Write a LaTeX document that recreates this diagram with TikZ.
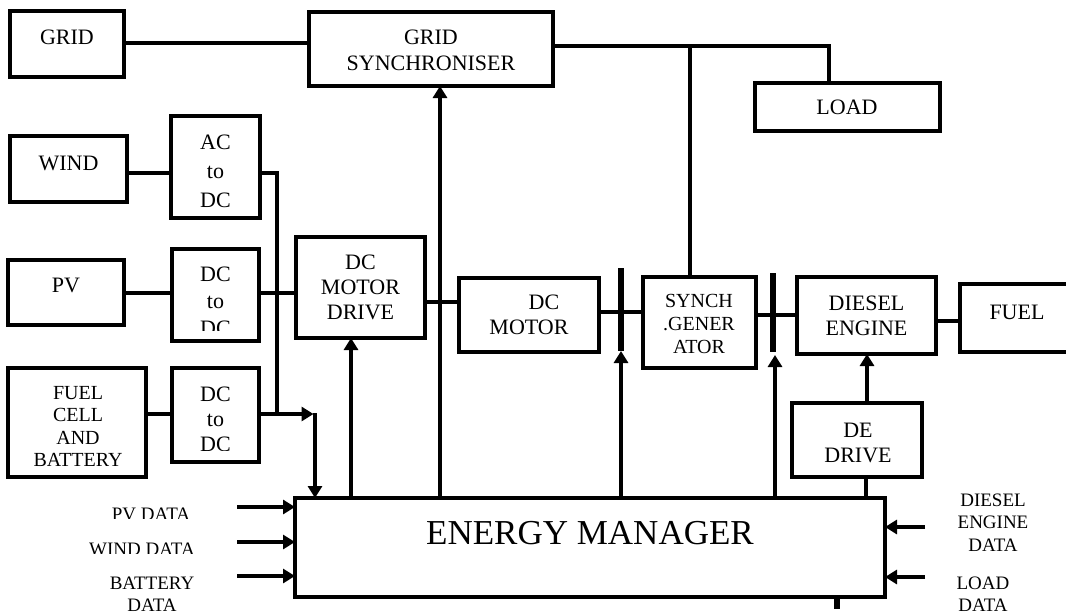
\documentclass[tikz,border=0pt]{standalone}
\usepackage{fontspec}
\setmainfont{Liberation Serif}
\usetikzlibrary{arrows.meta}
\begin{document}
\begin{tikzpicture}[x=1pt,y=-1pt,
  box/.style={draw,line width=3.4pt,inner sep=0pt,outer sep=0pt},
  ln/.style={line width=3.2pt},
  arr/.style={line width=3.2pt,-{Triangle[length=12pt,width=14pt]}},
  shaft/.style={line width=6.5pt},
  tb/.style={font=\fontsize{22}{25}\selectfont,align=center,inner sep=0pt},
  ts/.style={font=\fontsize{20}{23}\selectfont,align=center,inner sep=0pt},
  tl/.style={font=\fontsize{19}{22.5}\selectfont,align=center,inner sep=0pt}]
\useasboundingbox (0,0) rectangle (1066,614);
% boxes
\node[box,minimum width=114pt,minimum height=66pt] (grid) at (67,44) {};
\node[tb] (gridt) at (67,37) {GRID};
\node[box,minimum width=244pt,minimum height=74pt] (gs) at (431,49) {};
\node[tb,font=\fontsize{22}{26}\selectfont] (gst) at (431,50) {GRID\\SYNCHRONISER};
\node[box,minimum width=185pt,minimum height=48pt] (load) at (847.5,107) {};
\node[tb] (loadt) at (847,107) {LOAD};
\node[box,minimum width=117pt,minimum height=66pt] (wind) at (68.5,169) {};
\node[tb] (windt) at (68.5,163) {WIND};
\node[box,minimum width=89pt,minimum height=102pt] (acdc) at (215.5,167) {};
\node[tb,font=\fontsize{22}{29}\selectfont] (acdct) at (215.5,171.7) {AC\\to\\DC};
\node[box,minimum width=116pt,minimum height=65pt] (pv) at (66,292.5) {};
\node[tb] (pvt) at (66,285) {PV};
\node[box,minimum width=87pt,minimum height=92pt] (dcdca) at (215.5,295) {};
\node[box,tb,minimum width=129pt,minimum height=101pt] (dcmd) at (360.5,287.5) {DC\\MOTOR\\DRIVE};
\node[box,tb,minimum width=140pt,minimum height=74pt] (dcm) at (529,315) {\hspace*{30pt}DC\\MOTOR};
\node[box,minimum width=113pt,minimum height=91pt] (sg) at (699.5,322.5) {};
\node[ts] (sgt) at (699,324) {SYNCH\\.GENER\\ATOR};
\node[box,tb,minimum width=139pt,minimum height=77pt] (de) at (866.5,315.5) {DIESEL\\ENGINE};
\node[box,minimum width=115pt,minimum height=68pt] (fuel) at (1017.5,318) {};
\node[tb] (fuelt) at (1017,312) {FUEL};
\node[box,minimum width=138pt,minimum height=109pt] (fc) at (77,422.5) {};
\node[ts,font=\fontsize{20}{22.5}\selectfont] (fct) at (78,426.5) {FUEL\\CELL\\AND\\BATTERY};
\node[box,minimum width=87pt,minimum height=94pt] (dcdcb) at (215.5,415) {};
\node[box,minimum width=130pt,minimum height=74pt] (dedrive) at (857,440) {};
\node[tb] (dedrivet) at (858,442.5) {DE\\DRIVE};
\node[box,minimum width=590pt,minimum height=99pt] (em) at (590,547.5) {};
\node[font=\fontsize{35}{40}\selectfont,inner sep=0pt] (emt) at (590,533) {ENERGY MANAGER};
% labels
\node[tl] (batd) at (152,594) {BATTERY\\DATA};
\node[tl] (ded) at (993,522.5) {DIESEL\\ENGINE\\DATA};
\node[tl] (loadd) at (983,594) {LOAD\\DATA};
% clipped texts
\begin{scope}[even odd rule]
\clip (0,0) rectangle (1066,614)
  (190,330.7) rectangle (242,338.5)
  (190,450) rectangle (242,454)
  (100,518.3) rectangle (205,522.5)
  (75,553.3) rectangle (210,557.5);
\node[tb,font=\fontsize{22}{27}\selectfont] (dcdcat) at (215.5,301.7) {DC\\to\\DC};
\node[tb,font=\fontsize{22}{25}\selectfont] (dcdcbt) at (215.5,419.7) {DC\\to\\DC};
\node[tl] (pvd) at (151,514.5) {PV DATA};
\node[tl] (windd) at (142,549) {WIND DATA};
\end{scope}
% connectors
\coordinate (g1) at (0,43);
\draw[ln] (grid.east|-g1) -- (gs.west|-g1);
\coordinate (w1) at (0,173);
\draw[ln] (wind.east|-w1) -- (acdc.west|-w1);
\coordinate (b1) at (277,173);
\coordinate (b2) at (277,414);
\draw[ln] (acdc.east|-w1) -- (b1) -- (b2);
\coordinate (p1) at (0,293);
\draw[ln] (pv.east|-p1) -- (dcdca.west|-p1);
\draw[ln] (dcdca.east|-p1) -- (dcmd.west|-p1);
\coordinate (f1) at (0,414);
\draw[ln] (fc.east|-f1) -- (dcdcb.west|-f1);
\coordinate (f2) at (313.5,414);
\draw[arr] (dcdcb.east|-f1) -- (f2);
\coordinate (f3) at (315,413);
\draw[arr] (f3) -- (f3|-em.north);
\coordinate (c1) at (351,0);
\draw[arr] (c1|-em.north) -- (c1|-dcmd.south);
\coordinate (c2) at (440,0);
\draw[arr] (c2|-em.north) -- (c2|-gs.south);
\coordinate (d1) at (0,302);
\draw[ln] (dcmd.east|-d1) -- (dcm.west|-d1);
\coordinate (d2) at (0,312);
\draw[ln] (dcm.east|-d2) -- (sg.west|-d2);
\coordinate (s1a) at (621,268);
\coordinate (s1b) at (621,351);
\draw[shaft] (s1a) -- (s1b);
\draw[arr] (s1b|-em.north) -- (s1b);
\coordinate (d3) at (0,315);
\draw[ln] (sg.east|-d3) -- (de.west|-d3);
\coordinate (s2a) at (773,273);
\coordinate (s2b) at (773,352);
\draw[shaft] (s2a) -- (s2b);
\coordinate (s2c) at (775,355);
\draw[arr] (s2c|-em.north) -- (s2c);
\coordinate (d4) at (0,321);
\draw[ln] (de.east|-d4) -- (fuel.west|-d4);
\coordinate (e1) at (867,0);
\draw[arr] (e1|-dedrive.north) -- (e1|-de.south);
\coordinate (e2) at (866,0);
\draw[ln] (e2|-dedrive.south) -- (e2|-em.north);
\coordinate (t1) at (829,46);
\draw[ln] (gs.east|-t1) -- (t1) -- (t1|-load.north);
\coordinate (t2) at (690,46);
\draw[ln] (t2|-sg.north) -- (t2);
\coordinate (i1) at (237,507);
\coordinate (i2) at (237,542);
\coordinate (i3) at (237,576);
\draw[arr] (i1) -- (em.west|-i1);
\draw[arr] (i2) -- (em.west|-i2);
\draw[arr] (i3) -- (em.west|-i3);
\coordinate (r1) at (925,527);
\coordinate (r2) at (925,577);
\draw[arr] (r1) -- (em.east|-r1);
\draw[arr] (r2) -- (em.east|-r2);
\coordinate (k1) at (837,597);
\coordinate (k2) at (837,609);
\draw[line width=6pt] (k1) -- (k2);
\end{tikzpicture}
\end{document}
